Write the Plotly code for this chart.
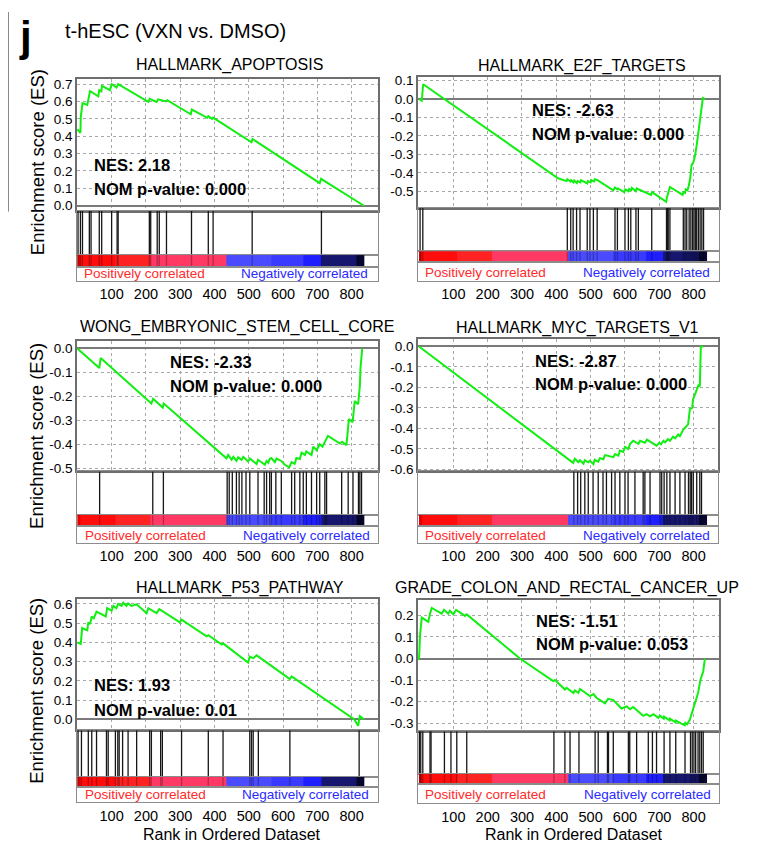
import plotly.graph_objects as go

# The page body keeps an 8 px margin, so the figure is drawn 8 px in from the window
# corner; the figure is sized so that it ends at the window edges.
OFF = 8
W, H = 757 - OFF, 850 - OFF
FONT = "Liberation Sans, Arial, Helvetica, sans-serif"

# ---------------- data ----------------
X_TICKS = [100, 200, 300, 400, 500, 600, 700, 800]

# HALLMARK_APOPTOSIS
ranks_apoptosis = [0, 9, 10, 15, 29, 32, 37, 61, 64, 70, 72, 95, 100, 114, 119, 207, 211, 231, 236, 258,
                   262, 331, 334, 379, 382, 393, 396, 508, 511, 707, 711, 836]
es_apoptosis = [0.44, 0.42, 0.51, 0.59, 0.58, 0.62, 0.66, 0.63, 0.665, 0.658, 0.69, 0.665, 0.70, 0.68, 0.70,
                0.598, 0.615, 0.597, 0.612, 0.60, 0.607, 0.526, 0.553, 0.506, 0.515, 0.50, 0.507, 0.365,
                0.384, 0.130, 0.155, 0.0]
hits_apoptosis = [2, 9, 15, 35, 40, 64, 71, 100, 116, 119, 210, 214, 233, 239, 260, 333, 382, 396, 510, 712]
yticks_apoptosis = [0.0, 0.1, 0.2, 0.3, 0.4, 0.5, 0.6, 0.7]

# HALLMARK_E2F_TARGETS
ranks_e2f = [0, 8, 12, 405, 430, 432, 441, 443, 450, 452, 460, 462, 470, 472, 490, 492, 500, 502, 510, 512,
             520, 566, 571, 578, 580, 598, 601, 610, 612, 618, 620, 632, 634, 676, 679, 720, 722, 726, 731, 768,
             770, 775, 777, 782, 786, 790, 794, 800, 804, 809, 814, 819, 823, 827, 833]
es_e2f = [0.0, -0.01, 0.08, -0.43, -0.445, -0.435, -0.447, -0.44, -0.452, -0.442, -0.455, -0.445, -0.452,
          -0.44, -0.458, -0.445, -0.452, -0.44, -0.447, -0.435, -0.44, -0.495, -0.48, -0.49, -0.485, -0.505,
          -0.49, -0.5, -0.488, -0.495, -0.482, -0.5, -0.485, -0.52, -0.505, -0.557, -0.535, -0.51, -0.477,
          -0.52, -0.505, -0.51, -0.49, -0.495, -0.47, -0.43, -0.36, -0.34, -0.31, -0.25, -0.18, -0.12, -0.06,
          0.005, 0.0]
hits_e2f = [3, 11, 432, 442, 449, 459, 469, 490, 498, 508, 519, 571, 578, 600, 610, 617, 632, 639, 678, 721,
            724, 726, 731, 770, 775, 780, 787, 792, 797, 801, 805, 809, 814, 819, 824, 829]
yticks_e2f = [-0.5, -0.4, -0.3, -0.2, -0.1, 0.0, 0.1]

# WONG_EMBRYONIC_STEM_CELL_CORE
ranks_wong = [0, 64, 68, 216, 221, 249, 252, 435, 440, 450, 455, 464, 469, 479, 484, 498, 503, 523, 527, 547,
              552, 557, 561, 566, 576, 581, 595, 605, 618, 625, 634, 639, 649, 654, 664, 668, 683, 688, 698, 707,
              715, 731, 766, 772, 785, 792, 803, 809, 819, 824, 826, 831]
es_wong = [0.0, -0.082, -0.04, -0.23, -0.21, -0.247, -0.23, -0.459, -0.445, -0.465, -0.453, -0.47, -0.455,
           -0.465, -0.453, -0.472, -0.46, -0.483, -0.465, -0.486, -0.47, -0.478, -0.462, -0.458, -0.475, -0.46,
           -0.47, -0.486, -0.497, -0.475, -0.482, -0.458, -0.462, -0.435, -0.445, -0.43, -0.445, -0.41, -0.425,
           -0.40, -0.41, -0.365, -0.397, -0.39, -0.404, -0.295, -0.308, -0.22, -0.233, -0.158, -0.08, 0.0]
hits_wong = [65, 220, 251, 437, 443, 452, 464, 472, 480, 492, 503, 527, 545, 552, 561, 566, 579, 595, 625, 634,
             649, 659, 668, 683, 698, 707, 722, 727, 771, 790, 804, 820, 824, 829]
yticks_wong = [-0.5, -0.4, -0.3, -0.2, -0.1, 0.0]

# HALLMARK_MYC_TARGETS_V1
ranks_myc = [0, 449, 454, 464, 469, 479, 483, 493, 498, 508, 512, 522, 527, 537, 542, 556, 566, 571, 581, 585,
             595, 600, 610, 615, 624, 639, 644, 658, 664, 692, 700, 705, 712, 717, 725, 731, 740, 746, 755, 760,
             770, 784, 789, 796, 798, 804, 814, 818, 821, 828]
es_myc = [0.0, -0.568, -0.548, -0.565, -0.555, -0.572, -0.555, -0.565, -0.558, -0.574, -0.553, -0.562, -0.545,
          -0.55, -0.53, -0.535, -0.54, -0.525, -0.533, -0.508, -0.515, -0.49, -0.50, -0.475, -0.46, -0.475,
          -0.46, -0.47, -0.455, -0.484, -0.47, -0.477, -0.46, -0.468, -0.452, -0.46, -0.44, -0.448, -0.43,
          -0.438, -0.405, -0.38, -0.306, -0.30, -0.26, -0.234, -0.19, -0.195, 0.0, 0.0]
hits_myc = [451, 462, 471, 483, 493, 507, 522, 536, 546, 561, 571, 585, 600, 609, 629, 653, 658, 673, 702, 707,
            714, 722, 731, 746, 760, 775, 785, 790, 794, 799, 809, 818, 823]
yticks_myc = [-0.6, -0.5, -0.4, -0.3, -0.2, -0.1, 0.0]

# HALLMARK_P53_PATHWAY
ranks_p53 = [0, 10, 14, 29, 32, 37, 42, 48, 56, 83, 87, 100, 105, 114, 119, 129, 134, 143, 148, 158, 173, 202,
             207, 231, 239, 299, 304, 377, 382, 421, 425, 498, 503, 513, 523, 620, 625, 808, 819, 824, 836]
es_p53 = [0.40, 0.393, 0.475, 0.463, 0.504, 0.495, 0.535, 0.525, 0.56, 0.535, 0.578, 0.565, 0.59, 0.578, 0.60,
          0.59, 0.607, 0.59, 0.603, 0.59, 0.598, 0.552, 0.578, 0.552, 0.573, 0.504, 0.518, 0.432, 0.438, 0.389,
          0.395, 0.295, 0.326, 0.318, 0.333, 0.209, 0.223, 0.0, -0.033, 0.017, 0.0]
hits_p53 = [2, 12, 32, 42, 56, 85, 90, 111, 118, 122, 132, 148, 173, 211, 216, 243, 248, 304, 382, 425, 503, 508,
            513, 528, 620, 822]
yticks_p53 = [0.0, 0.1, 0.2, 0.3, 0.4, 0.5, 0.6]

# GRADE_COLON_AND_RECTAL_CANCER_UP
ranks_grade = [0, 3, 8, 27, 32, 37, 66, 73, 85, 90, 100, 108, 134, 139, 294, 391, 396, 425, 430, 450, 454, 464,
               469, 498, 508, 517, 542, 551, 566, 590, 605, 615, 624, 653, 663, 673, 683, 697, 702, 713, 714, 730,
               731, 747, 748, 774, 776, 781, 789, 799, 809, 813, 820, 828, 833]
es_grade = [-0.006, 0.11, 0.19, 0.17, 0.208, 0.235, 0.208, 0.226, 0.208, 0.222, 0.205, 0.226, 0.198, 0.205, 0.0,
            -0.105, -0.10, -0.144, -0.136, -0.16, -0.148, -0.159, -0.141, -0.174, -0.165, -0.182, -0.208, -0.187,
            -0.193, -0.232, -0.222, -0.235, -0.225, -0.266, -0.258, -0.268, -0.258, -0.275, -0.265, -0.279,
            -0.27, -0.287, -0.279, -0.296, -0.288, -0.31, -0.298, -0.305, -0.284, -0.235, -0.19, -0.16, -0.098,
            -0.06, 0.0]
hits_grade = [1, 5, 11, 32, 35, 74, 93, 110, 139, 393, 425, 440, 466, 513, 522, 549, 552, 566, 610, 614, 634,
              668, 680, 692, 714, 731, 748, 775, 791, 796, 801, 806, 813, 818, 823, 828]
yticks_grade = [-0.3, -0.2, -0.1, 0.0, 0.1, 0.2]

# ranked-list metric colour bar (shared by all panels)
cbar_edges = [0, 10, 110, 212, 435, 565, 660, 712, 815, 838]
cbar_colors = ["#e40000", "#ff0c0c", "#ff2222", "#ff3864", "#4a4aff", "#3a3aff", "#1e1eff", "#16166e", "#06062e"]

# ---------------- panel layout (pixel geometry, window coordinates) ----------------
panels = [
    dict(title="HALLMARK_APOPTOSIS", nes="NES: 2.18", pval="NOM p-value: 0.000",
         ranks=ranks_apoptosis, es=es_apoptosis, hits=hits_apoptosis, yticks=yticks_apoptosis,
         yr=[-0.028, 0.728], L=77, R=378, T=76, B=209, Hb=254, Cb=266, Fb=280, xr=[-1, 877],
         tx=229, ty=62, nx=92, ny=163, py=187, posx=82, lby=273, negx=370, ylab=160, xlab=None),
    dict(title="HALLMARK_E2F_TARGETS", nes="NES: -2.63", pval="NOM p-value: 0.000",
         ranks=ranks_e2f, es=es_e2f, hits=hits_e2f, yticks=yticks_e2f,
         yr=[-0.589, 0.118], L=418, R=719, T=74, B=206, Hb=250, Cb=261, Fb=280, xr=[-3, 874],
         tx=582, ty=63, nx=530, ny=107, py=131, posx=423, lby=272, negx=712, ylab=None, xlab=None),
    dict(title="WONG_EMBRYONIC_STEM_CELL_CORE", nes="NES: -2.33", pval="NOM p-value: 0.000",
         ranks=ranks_wong, es=es_wong, hits=hits_wong, yticks=yticks_wong,
         yr=[-0.514, 0.031], L=77, R=378, T=341, B=473, Hb=517, Cb=528, Fb=545, xr=[-1, 877],
         tx=237, ty=327, nx=168, ny=362, py=386, posx=83, lby=538, negx=372, ylab=437, xlab=None),
    dict(title="HALLMARK_MYC_TARGETS_V1", nes="NES: -2.87", pval="NOM p-value: 0.000",
         ranks=ranks_myc, es=es_myc, hits=hits_myc, yticks=yticks_myc,
         yr=[-0.61, 0.036], L=418, R=718, T=339, B=473, Hb=517, Cb=528, Fb=545, xr=[-3, 871],
         tx=577, ty=328, nx=533, ny=361, py=384, posx=423, lby=538, negx=712, ylab=None, xlab=None),
    dict(title="HALLMARK_P53_PATHWAY", nes="NES: 1.93", pval="NOM p-value: 0.01",
         ranks=ranks_p53, es=es_p53, hits=hits_p53, yticks=yticks_p53,
         yr=[-0.057, 0.626], L=77, R=378, T=602, B=735, Hb=782, Cb=792, Fb=808, xr=[-1, 877],
         tx=240, ty=591, nx=92, ny=689, py=714, posx=83, lby=800, negx=371, ylab=695, xlab=232),
    dict(title="GRADE_COLON_AND_RECTAL_CANCER_UP", nes="NES: -1.51", pval="NOM p-value: 0.053",
         ranks=ranks_grade, es=es_grade, hits=hits_grade, yticks=yticks_grade,
         yr=[-0.338, 0.272], L=418, R=719, T=603, B=736, Hb=779, Cb=789, Fb=809, xr=[-3, 874],
         tx=567, ty=591, nx=534, ny=624, py=648, posx=423, lby=800, negx=713, ylab=None, xlab=574),
]


def fx(px):
    return (px - OFF) / W


def fy(py):
    return 1 - (py - OFF) / H


def axname(letter, k):
    return f"{letter}axis" if k == 1 else f"{letter}axis{k}"


def ref(letter, k):
    return letter if k == 1 else f"{letter}{k}"


n_c = len(cbar_colors)
colorscale = []
for i, c in enumerate(cbar_colors):
    colorscale.append([i / n_c, c])
    colorscale.append([(i + 1) / n_c, c])

fig = go.Figure()
layout = dict(width=W, height=H, margin=dict(l=0, r=0, t=0, b=0), autosize=False,
              paper_bgcolor="white", plot_bgcolor="white", showlegend=False,
              font=dict(family=FONT, color="black"))
annotations = []

GRID = "#a8a8a8"
FRAME = "#6e6e6e"
FRAME2 = "#8c8c8c"


def box_axis(dom, rng, anchor, color, width, **kw):
    d = dict(domain=dom, range=rng, anchor=anchor, showticklabels=False, ticks="", showgrid=False,
             zeroline=False, showline=True, mirror=True, linecolor=color, linewidth=width, fixedrange=True)
    d.update(kw)
    return d


for i, p in enumerate(panels):
    es_k, hit_k, cb_k, lab_k = i * 4 + 1, i * 4 + 2, i * 4 + 3, i * 4 + 4
    xdom = [fx(p["L"]), fx(p["R"])]

    # --- ES axes
    layout[axname("x", es_k)] = box_axis(xdom, p["xr"], ref("y", es_k), FRAME, 1.5, tickvals=X_TICKS,
                                         showgrid=True, gridcolor=GRID, griddash="dot", gridwidth=1)
    layout[axname("y", es_k)] = box_axis([fy(p["B"]), fy(p["T"])], p["yr"], ref("x", es_k), FRAME, 1.5,
                                         tickvals=p["yticks"], ticktext=[f"{v:.1f}" for v in p["yticks"]],
                                         showticklabels=True,
                                         tickfont=dict(size=13.5, family=FONT, color="black"),
                                         showgrid=True, gridcolor=GRID, griddash="dot", gridwidth=1,
                                         zeroline=True, zerolinecolor="#7a7a7a", zerolinewidth=1.5)
    fig.add_trace(go.Scatter(x=p["ranks"], y=p["es"], mode="lines", line=dict(color="#11ee11", width=2),
                             xaxis=ref("x", es_k), yaxis=ref("y", es_k), hoverinfo="skip"))

    # --- hit axes
    layout[axname("x", hit_k)] = box_axis(xdom, p["xr"], ref("y", hit_k), FRAME2, 1)
    layout[axname("y", hit_k)] = box_axis([fy(p["Hb"]), fy(p["B"])], [0, 1], ref("x", hit_k), FRAME2, 1)
    hx, hy = [], []
    for r in p["hits"]:
        hx += [r, r, None]
        hy += [0, 1, None]
    fig.add_trace(go.Scatter(x=hx, y=hy, mode="lines", line=dict(color="#161616", width=1.3),
                             xaxis=ref("x", hit_k), yaxis=ref("y", hit_k), hoverinfo="skip"))

    # --- colour bar axes
    layout[axname("x", cb_k)] = box_axis(xdom, p["xr"], ref("y", cb_k), FRAME2, 1)
    layout[axname("y", cb_k)] = box_axis([fy(p["Cb"]), fy(p["Hb"])], [0, 1], ref("x", cb_k), FRAME2, 1)
    fig.add_trace(go.Heatmap(x=cbar_edges, y=[0, 1], z=[list(range(n_c))], colorscale=colorscale,
                             zmin=-0.5, zmax=n_c - 0.5, showscale=False, hoverinfo="skip",
                             xaxis=ref("x", cb_k), yaxis=ref("y", cb_k)))
    fig.add_trace(go.Scatter(x=hx, y=hy, mode="lines", line=dict(color="rgba(0,0,0,0.28)", width=1.3),
                             xaxis=ref("x", cb_k), yaxis=ref("y", cb_k), hoverinfo="skip"))

    # --- label strip axes (carries the rank tick labels)
    layout[axname("x", lab_k)] = box_axis(xdom, p["xr"], ref("y", lab_k), FRAME2, 1, tickvals=X_TICKS,
                                          showticklabels=True,
                                          tickfont=dict(size=14.5, family=FONT, color="black"))
    layout[axname("y", lab_k)] = box_axis([fy(p["Fb"]), fy(p["Cb"])], [0, 1], ref("x", lab_k), FRAME2, 1)
    fig.add_trace(go.Scatter(x=[], y=[], mode="lines", xaxis=ref("x", lab_k), yaxis=ref("y", lab_k),
                             hoverinfo="skip"))

    # --- texts
    annotations.append(dict(text=p["title"], x=fx(p["tx"]), y=fy(p["ty"]), xref="paper", yref="paper",
                            xanchor="center", yanchor="middle", showarrow=False,
                            font=dict(size=16, family=FONT, color="black")))
    annotations.append(dict(text=f"<b>{p['nes']}</b>", x=fx(p["nx"]), y=fy(p["ny"]), xref="paper",
                            yref="paper", xanchor="left", yanchor="middle", showarrow=False,
                            font=dict(size=16.5, family=FONT, color="black")))
    annotations.append(dict(text=f"<b>{p['pval']}</b>", x=fx(p["nx"]), y=fy(p["py"]), xref="paper",
                            yref="paper", xanchor="left", yanchor="middle", showarrow=False,
                            font=dict(size=16.5, family=FONT, color="black")))
    annotations.append(dict(text="Positively correlated", x=fx(p["posx"]), y=fy(p["lby"]), xref="paper",
                            yref="paper", xanchor="left", yanchor="middle", showarrow=False,
                            font=dict(size=13.5, family=FONT, color="#ff2a2a")))
    annotations.append(dict(text="Negatively correlated", x=fx(p["negx"]), y=fy(p["lby"]), xref="paper",
                            yref="paper", xanchor="right", yanchor="middle", showarrow=False,
                            font=dict(size=13.5, family=FONT, color="#2a2aff")))
    if p["ylab"] is not None:
        annotations.append(dict(text="Enrichment score (ES)", x=fx(37), y=fy(p["ylab"]), xref="paper",
                                yref="paper", xanchor="center", yanchor="middle", textangle=-90,
                                showarrow=False, font=dict(size=18.5, family=FONT, color="black")))
    if p["xlab"] is not None:
        annotations.append(dict(text="Rank in Ordered Dataset", x=fx(p["xlab"]), y=0, xref="paper",
                                yref="paper", xanchor="center", yanchor="bottom", showarrow=False,
                                borderpad=0, font=dict(size=16, family=FONT, color="black")))

annotations.append(dict(text="t-hESC (VXN vs. DMSO)", x=fx(63), y=fy(27), xref="paper", yref="paper",
                        xanchor="left", yanchor="middle", showarrow=False,
                        font=dict(size=20, family=FONT, color="black")))
annotations.append(dict(text="<b>j</b>", x=fx(25), y=1, xref="paper", yref="paper",
                        xanchor="center", yanchor="top", showarrow=False, borderpad=0,
                        font=dict(size=42, family=FONT, color="black")))

# remnant frame line at the far left edge of the figure
shapes = [
    dict(type="line", xref="paper", yref="paper", x0=fx(8.5), x1=fx(8.5), y0=1, y1=fy(210),
         line=dict(color="#8a8a8a", width=1)),
]

layout["annotations"] = annotations
layout["shapes"] = shapes
fig.update_layout(**layout)
fig.write_html("out.html")
